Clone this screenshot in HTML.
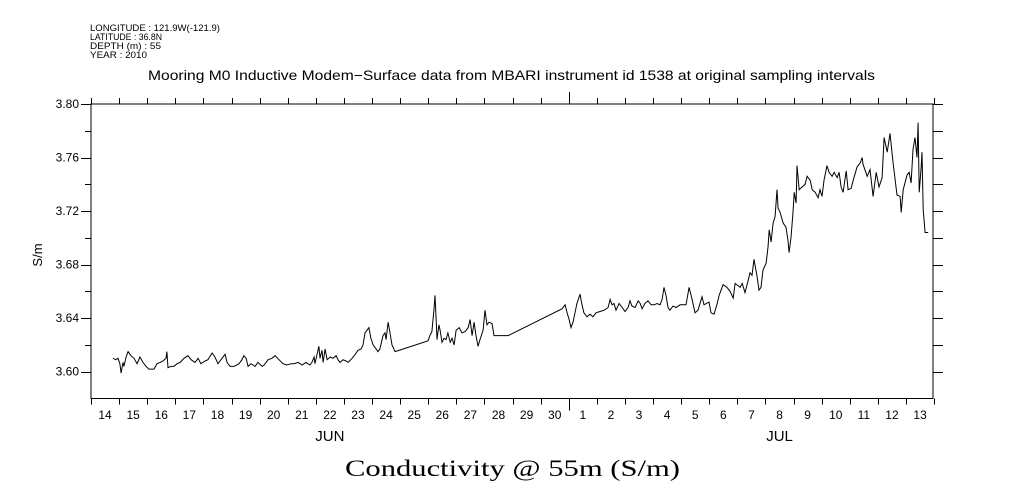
<!DOCTYPE html>
<html><head><meta charset="utf-8"><style>
body{margin:0;background:#fff;}
svg{display:block;font-family:"Liberation Sans",sans-serif;}
</style></head><body>
<svg id="chart" width="1009" height="504" viewBox="0 0 1009 504">
<g font-size="9" fill="#000">
<text x="90" y="31" textLength="130" lengthAdjust="spacingAndGlyphs">LONGITUDE : 121.9W(-121.9)</text>
<text x="90" y="40" textLength="72" lengthAdjust="spacingAndGlyphs">LATITUDE : 36.8N</text>
<text x="90" y="49" textLength="71" lengthAdjust="spacingAndGlyphs">DEPTH (m) : 55</text>
<text x="90" y="58" textLength="57" lengthAdjust="spacingAndGlyphs">YEAR : 2010</text>
</g>
<text x="148" y="80" font-size="14" textLength="727" lengthAdjust="spacingAndGlyphs">Mooring M0 Inductive Modem−Surface data from MBARI instrument id 1538 at original sampling intervals</text>
<text x="42" y="255" font-size="13" text-anchor="middle" transform="rotate(-90 42 255)">S/m</text>
<text x="345" y="476" font-size="23" textLength="335" lengthAdjust="spacingAndGlyphs" font-family="Liberation Serif, serif">Conductivity @ 55m (S/m)</text>
<g id="axes"></g>
<path id="series" fill="none" stroke="#000" stroke-width="1"/>
</svg>
<script>
const dayLabels=[14,15,16,17,18,19,20,21,22,23,24,25,26,27,28,29,30,1,2,3,4,5,6,7,8,9,10,11,12,13];
const monthLabels=["JUN","JUL"];
const monthDays=[8.5,24.5];
const yTicks=[3.60,3.64,3.68,3.72,3.76,3.80];
const days=[0.78,0.89,0.96,1.03,1.07,1.14,1.17,1.25,1.32,1.42,1.53,1.64,1.74,1.85,1.96,2.06,2.24,2.35,2.46,2.56,2.67,2.70,2.74,2.85,2.95,3.06,3.17,3.31,3.45,3.56,3.70,3.81,3.91,4.06,4.16,4.31,4.41,4.52,4.66,4.77,4.84,4.95,5.09,5.27,5.37,5.44,5.52,5.59,5.69,5.84,5.94,6.09,6.16,6.30,6.44,6.55,6.69,6.83,6.97,7.12,7.22,7.37,7.51,7.65,7.79,7.86,7.94,7.97,8.04,8.11,8.15,8.22,8.26,8.33,8.40,8.51,8.61,8.72,8.79,8.86,8.97,9.07,9.15,9.29,9.40,9.50,9.61,9.68,9.75,9.82,9.89,9.96,10.04,10.11,10.21,10.28,10.39,10.46,10.50,10.57,10.64,10.71,10.82,
11.99,12.06,12.13,12.20,12.24,12.28,12.31,12.38,12.42,12.49,12.56,12.63,12.70,12.78,12.85,12.92,12.99,13.10,13.20,13.31,13.42,13.49,13.56,13.63,13.70,13.77,13.84,13.95,14.02,14.09,14.16,14.27,14.34,14.84,
16.76,16.87,16.94,17.01,17.08,17.15,17.22,17.29,17.37,17.40,17.47,17.54,17.65,17.76,17.86,17.97,18.11,18.26,18.40,18.47,18.54,18.61,18.68,18.79,18.90,19.00,19.11,19.18,19.25,19.36,19.47,19.54,19.61,19.71,19.82,19.93,20.04,20.14,20.25,20.32,20.39,20.46,20.53,20.60,20.71,20.82,20.96,
21.17,21.28,21.39,21.49,21.60,21.74,21.81,21.99,22.06,22.17,22.28,22.35,22.49,22.63,22.74,22.85,22.92,23.10,23.17,23.27,23.38,23.45,23.52,23.59,23.70,23.77,23.84,23.91,24.02,24.09,24.13,24.20,24.27,24.34,24.41,24.45,24.52,24.63,24.73,24.80,24.84,24.91,24.98,25.02,25.09,25.12,25.20,25.30,25.41,25.48,25.59,25.66,25.77,25.87,25.94,26.01,26.08,26.19,26.26,26.37,26.44,26.55,26.62,26.69,26.76,26.87,26.94,27.05,27.12,27.26,27.37,27.44,27.47,27.62,27.72,27.83,27.94,28.04,28.15,28.22,28.33,28.43,28.54,28.68,28.79,28.83,28.90,29.04,29.11,29.18,29.25,29.32,29.39,29.43,29.47,29.54,29.57,29.61,29.68,29.79];
const values=[3.610,3.609,3.610,3.606,3.599,3.607,3.604,3.611,3.615,3.612,3.610,3.606,3.611,3.607,3.604,3.602,3.602,3.606,3.607,3.608,3.610,3.615,3.603,3.604,3.604,3.606,3.607,3.610,3.612,3.609,3.607,3.610,3.606,3.608,3.609,3.614,3.611,3.606,3.610,3.613,3.607,3.604,3.604,3.606,3.609,3.612,3.610,3.604,3.606,3.604,3.607,3.604,3.605,3.609,3.610,3.612,3.609,3.606,3.605,3.606,3.606,3.607,3.605,3.607,3.605,3.607,3.611,3.606,3.613,3.619,3.610,3.616,3.607,3.617,3.609,3.611,3.610,3.612,3.609,3.607,3.609,3.608,3.607,3.610,3.613,3.616,3.617,3.620,3.629,3.631,3.633,3.625,3.620,3.618,3.615,3.617,3.627,3.629,3.624,3.637,3.629,3.620,3.615,
3.623,3.627,3.630,3.646,3.657,3.640,3.624,3.635,3.631,3.622,3.625,3.624,3.629,3.622,3.625,3.620,3.631,3.633,3.629,3.630,3.633,3.639,3.627,3.637,3.627,3.619,3.624,3.631,3.646,3.635,3.637,3.636,3.627,3.627,
3.647,3.650,3.644,3.639,3.633,3.637,3.644,3.651,3.656,3.658,3.650,3.644,3.641,3.643,3.641,3.644,3.645,3.646,3.648,3.654,3.650,3.651,3.646,3.651,3.648,3.645,3.648,3.653,3.649,3.648,3.653,3.651,3.647,3.651,3.653,3.650,3.650,3.651,3.650,3.654,3.663,3.657,3.648,3.646,3.649,3.648,3.650,
3.650,3.663,3.654,3.644,3.646,3.656,3.650,3.652,3.644,3.643,3.651,3.657,3.665,3.663,3.660,3.655,3.666,3.663,3.666,3.659,3.668,3.674,3.672,3.684,3.671,3.661,3.663,3.676,3.681,3.693,3.706,3.697,3.711,3.716,3.736,3.722,3.719,3.711,3.708,3.698,3.689,3.701,3.719,3.734,3.726,3.754,3.736,3.738,3.740,3.746,3.743,3.736,3.734,3.730,3.736,3.731,3.743,3.754,3.749,3.746,3.749,3.745,3.749,3.738,3.734,3.750,3.736,3.737,3.743,3.753,3.756,3.760,3.755,3.746,3.751,3.731,3.749,3.738,3.745,3.775,3.764,3.778,3.756,3.732,3.731,3.719,3.736,3.747,3.749,3.741,3.766,3.775,3.760,3.786,3.734,3.753,3.764,3.721,3.704,3.704];

const L=91,R=933,T=104,B=398.5, D0=0,D1=29.96, V0=3.58,V1=3.80;
const xs=d=>L+(d-D0)/(D1-D0)*(R-L);
const ys=v=>B-(v-V0)/(V1-V0)*(B-T);
const NS="http://www.w3.org/2000/svg";
const axes=document.getElementById('axes');
function mk(tag,attrs,parent){const e=document.createElementNS(NS,tag);for(const k in attrs)e.setAttribute(k,attrs[k]);(parent||axes).appendChild(e);return e;}
let frame=mk('rect',{x:L,y:T,width:R-L,height:B-T,fill:'none',stroke:'#000','stroke-width':1});


for(let i=0;i<=dayLabels.length;i++){
  const x=Math.round(xs(i))+0.5;
  const long=(i===17);
  let t=mk('line',{x1:x,x2:x,y1:B,y2:B+(long?12:6),stroke:'#000'});
  
  
  let t2=mk('line',{x1:x,x2:x,y1:T,y2:T-(long?12:6),stroke:'#000'});
  
  
}
dayLabels.forEach((d,i)=>{
  let tx=mk('text',{x:xs(i+0.5),y:419,'font-size':12,'text-anchor':'middle'});
  tx.textContent=d;
  
  
});
monthLabels.forEach((m,i)=>{
  let tx=mk('text',{x:xs(monthDays[i]),y:441,'font-size':15,'text-anchor':'middle'});
  tx.textContent=m;
  
  
});
for(let v=V0+0.02;v<=V1+0.001;v+=0.02){
  const y=Math.round(ys(v))+0.5;
  const major=yTicks.some(t=>Math.abs(t-v)<0.001);
  let t=mk('line',{x1:L-(major?10:6),x2:L,y1:y,y2:y,stroke:'#000'});
  
  
  let t2=mk('line',{x1:R,x2:R+10,y1:y,y2:y,stroke:'#000'});
  
  
}
yTicks.forEach(v=>{
  let tx=mk('text',{x:79,y:ys(v)+4,'font-size':12,'text-anchor':'end'});
  tx.textContent=v.toFixed(2);
  
  
});
document.getElementById('series').setAttribute('d',days.map((d,i)=>(i?'L':'M')+xs(d).toFixed(1)+' '+ys(values[i]).toFixed(1)).join(' '));
</script>
</body></html>
